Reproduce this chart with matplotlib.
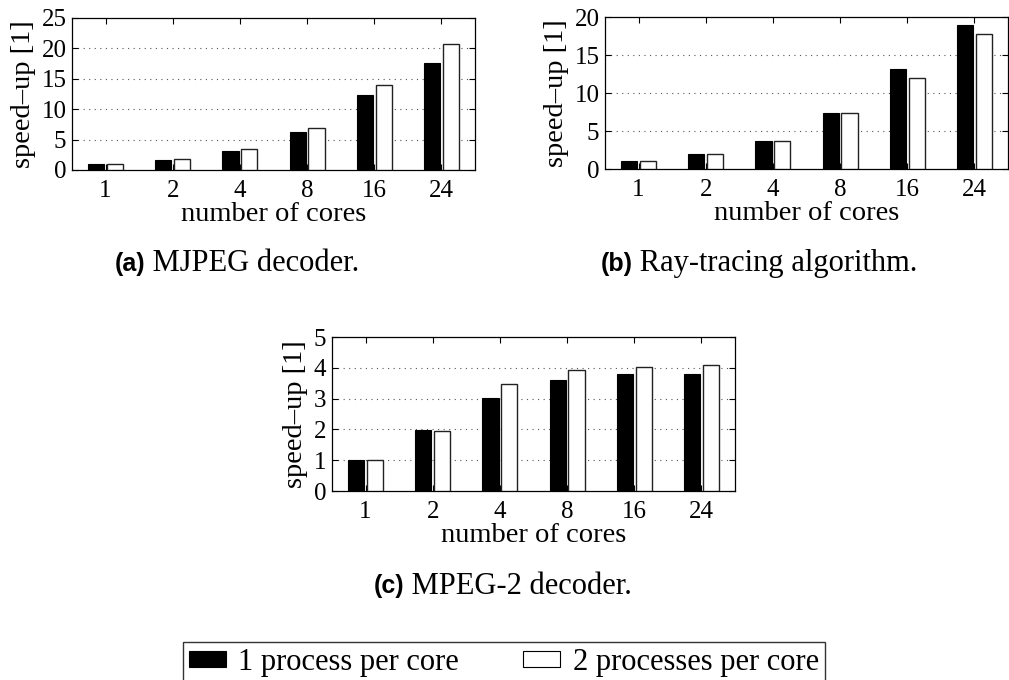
import matplotlib
matplotlib.use("Agg")
import matplotlib.pyplot as plt
import numpy as np
from matplotlib.patches import Patch

cores = ["1", "2", "4", "8", "16", "24"]
mjpeg_1 = [1.0, 1.65, 3.2, 6.2, 12.4, 17.6]
mjpeg_2 = [1.0, 1.75, 3.5, 6.95, 13.9, 20.8]
ray_1 = [1.0, 2.0, 3.7, 7.4, 13.2, 19.0]
ray_2 = [1.0, 2.0, 3.7, 7.4, 12.0, 17.8]
mpeg2_1 = [1.0, 1.97, 3.03, 3.59, 3.81, 3.81]
mpeg2_2 = [1.0, 1.95, 3.46, 3.92, 4.03, 4.08]
captions = [("(a)", "MJPEG decoder."), ("(b)", "Ray-tracing algorithm."), ("(c)", "MPEG-2 decoder.")]
legend_labels = ["1 process per core", "2 processes per core"]

W, H = 1009, 680
fig = plt.figure(figsize=(W / 100, H / 100), dpi=100)
SERIF = "Liberation Serif"
TFS = 18
LFS = 20.5

def rect(l, t, r, b):
    return [l / W, 1 - b / H, (r - l) / W, (b - t) / H]

def panel(r, s1, s2, ymax, ystep):
    ax = fig.add_axes(rect(*r))
    x = np.arange(1, len(cores) + 1)
    w = 0.24
    ax.bar(x - 0.14, s1, w, color="black", edgecolor="black", linewidth=0.8, zorder=3)
    ax.bar(x + 0.14, s2, w, color="white", edgecolor="#222222", linewidth=1.0, zorder=3)
    ax.set_xlim(0.5, len(cores) + 0.5)
    ax.set_ylim(0, ymax)
    ax.set_xticks(x)
    ax.set_xticklabels(cores, fontfamily=SERIF, fontsize=TFS)
    yt = np.arange(0, ymax + 0.01, ystep)
    ax.set_yticks(yt)
    ax.set_yticklabels([f"{int(v)}" for v in yt], fontfamily=SERIF, fontsize=TFS)
    ax.tick_params(axis="x", direction="in", length=4, width=0.8, top=True, pad=7, colors="black")
    ax.tick_params(axis="y", direction="in", length=4, width=0.8, right=True, pad=4, colors="black")
    for yv in yt[1:-1]:
        ax.axhline(yv, color="#555555", linestyle=(0, (1, 4)), linewidth=0.8, zorder=1)
    for sp in ax.spines.values():
        sp.set_linewidth(0.9)
    ax.set_xlabel("number of cores", fontfamily=SERIF, fontsize=LFS, labelpad=0)
    ax.set_ylabel("speed\u2013up [1]", fontfamily=SERIF, fontsize=LFS, labelpad=4)
    return ax

panel((72, 18, 475, 170), mjpeg_1, mjpeg_2, 25, 5)
panel((605, 17, 1008, 169), ray_1, ray_2, 20, 5)
panel((332, 337, 735, 491), mpeg2_1, mpeg2_2, 5, 1)

renderer = fig.canvas.get_renderer()

def caption(cx, cy, pair):
    a, b = pair
    t1 = fig.text(0, 0, a, fontfamily="Liberation Sans", fontweight="bold", fontsize=18, va="center")
    t2 = fig.text(0, 0, " " + b, fontfamily=SERIF, fontsize=22, va="center")
    w1 = t1.get_window_extent(renderer).width
    w2 = t2.get_window_extent(renderer).width
    x0 = cx - (w1 + w2) / 2
    t1.set_position((x0 / W, 1 - cy / H))
    t2.set_position(((x0 + w1) / W, 1 - cy / H))

caption(237, 264, captions[0])
caption(759, 264, captions[1])
caption(503, 586, captions[2])

handles = [Patch(facecolor="black", edgecolor="black", linewidth=0.8),
           Patch(facecolor="white", edgecolor="black", linewidth=0.8)]
leg = fig.legend(handles, legend_labels, loc="upper center", bbox_to_anchor=(504 / W, 1 - 642 / H),
                 ncol=2, frameon=True, fancybox=False, edgecolor="black",
                 prop={"family": SERIF, "size": 22}, handlelength=1.2, handleheight=0.45,
                 columnspacing=2.1, handletextpad=0.42, borderpad=0.2, borderaxespad=0)
leg.get_frame().set_linewidth(1.0)

fig.savefig("out.png", dpi=100)
